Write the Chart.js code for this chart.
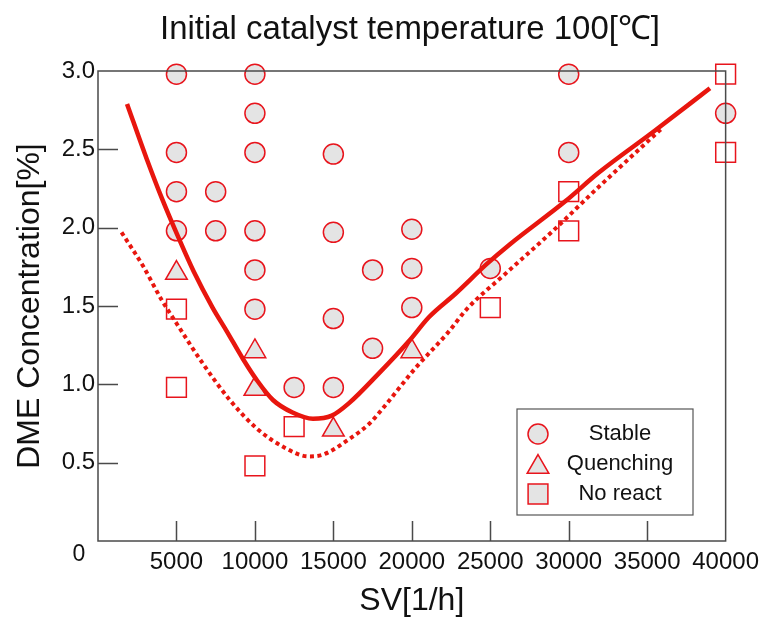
<!DOCTYPE html>
<html>
<head>
<meta charset="utf-8">
<script src="https://cdn.jsdelivr.net/npm/chart.js@4.4.1/dist/chart.umd.min.js"></script>
<style>
  html, body { margin: 0; padding: 0; background: #fff; }
</style>
</head>
<body>
<canvas id="chart" width="766" height="617"></canvas>
<script>
// operating points, SV [1/h] vs DME concentration [%]
const stableSV   = [5000, 5000, 5000, 5000, 7500, 7500, 10000, 10000, 10000, 10000, 10000, 10000, 12500,
                    15000, 15000, 15000, 15000, 17500, 17500, 20000, 20000, 20000, 25000, 30000, 30000, 40000];
const stableConc = [2.98, 2.48, 2.23, 1.98, 2.23, 1.98, 2.98, 2.73, 2.48, 1.98, 1.73, 1.48, 0.98,
                    2.47, 1.97, 1.42, 0.98, 1.73, 1.23, 1.99, 1.74, 1.49, 1.74, 2.98, 2.48, 2.73];

const quenchSV   = [5000, 10000, 10000, 15000, 20000];
const quenchConc = [1.71, 1.21, 0.97, 0.71, 1.21];

const noReactSV   = [5000, 5000, 10000, 12500, 25000, 30000, 30000, 40000, 40000];
const noReactConc = [1.48, 0.98, 0.48, 0.73, 1.49, 2.23, 1.98, 2.98, 2.48];

// boundary curves
const upperSV   = [1850, 3100, 4100, 5200, 6100, 7300, 8200, 9250, 10100, 11150, 12400, 13700, 14900,
                   16000, 17900, 19850, 21100, 22800, 24800, 26200, 29800, 31900, 35500, 39000];
const upperConc = [2.79, 2.44, 2.18, 1.92, 1.72, 1.49, 1.34, 1.16, 1.03, 0.90, 0.82, 0.78, 0.80,
                   0.88, 1.07, 1.28, 1.43, 1.58, 1.77, 1.89, 2.17, 2.35, 2.62, 2.89];

const lowerSV   = [1500, 2900, 4050, 5000, 6700, 8400, 10100, 12000, 13400, 14300,
                   16000, 17300, 18100, 20200, 22300, 23500, 25900, 29000, 31700, 36000];
const lowerConc = [1.97, 1.75, 1.54, 1.39, 1.13, 0.90, 0.72, 0.59, 0.54, 0.55,
                   0.65, 0.75, 0.84, 1.10, 1.33, 1.48, 1.70, 1.98, 2.24, 2.64];

const xTicks = [5000, 10000, 15000, 20000, 25000, 30000, 35000, 40000];
const yTicks = [0.5, 1.0, 1.5, 2.0, 2.5, 3.0];

const legendItems = ['Stable', 'Quenching', 'No react'];

const RED = 'rgb(232, 22, 14)';
const MARK_RED = '#e8141c';
const GRAY = '#e4e4e4';
const FONT = '"Liberation Sans", Arial, sans-serif';

const pts = (xs, ys) => xs.map((x, i) => ({ x: x, y: ys[i] }));

const markers = [
  { style: 'circle', radius: 10, fill: GRAY },
  { style: 'triangle', radius: 12.5, fill: GRAY },
  { style: 'rect', radius: 14, fill: '#fff' }
];

// frame, inward ticks, titles and the boxed legend
const decorations = {
  id: 'decorations',
  afterDraw(chart) {
    const { ctx, chartArea: a, scales: { x, y } } = chart;
    ctx.save();
    ctx.strokeStyle = '#4a4a4a';
    ctx.lineWidth = 1.5;
    ctx.strokeRect(a.left, a.top, a.right - a.left, a.bottom - a.top);

    ctx.beginPath();
    xTicks.slice(0, -1).forEach(v => {
      const px = Math.round(x.getPixelForValue(v)) + 0.5;
      ctx.moveTo(px, a.bottom);
      ctx.lineTo(px, a.bottom - 20);
    });
    yTicks.slice(0, -1).forEach(v => {
      const py = Math.round(y.getPixelForValue(v)) + 0.5;
      ctx.moveTo(a.left, py);
      ctx.lineTo(a.left + 20, py);
    });
    ctx.stroke();

    ctx.fillStyle = '#111';
    ctx.textAlign = 'center';
    ctx.textBaseline = 'middle';
    ctx.font = '23px ' + FONT;
    ctx.fillText('0', 79, 555);

    // title, a little condensed
    ctx.font = '33px ' + FONT;
    const title = 'Initial catalyst temperature 100[℃]';
    const w = ctx.measureText(title).width;
    ctx.save();
    ctx.translate(410, 30);
    ctx.scale(500 / w, 1);
    ctx.fillText(title, 0, 0);
    ctx.restore();

    // legend
    const lx = 517, ly = 409, lw = 176, lh = 106;
    ctx.fillStyle = '#fff';
    ctx.fillRect(lx, ly, lw, lh);
    ctx.strokeStyle = '#555';
    ctx.lineWidth = 1.2;
    ctx.strokeRect(lx, ly, lw, lh);
    legendItems.forEach((label, i) => {
      const cy = 434 + i * 30;
      ctx.fillStyle = GRAY;
      ctx.strokeStyle = MARK_RED;
      ctx.lineWidth = 1.5;
      Chart.helpers.drawPoint(ctx, {
        pointStyle: markers[i].style,
        radius: markers[i].radius,
        rotation: 0,
        borderWidth: 1.5
      }, 538, cy + (i === 1 ? 3 : 0));
      ctx.fillStyle = '#111';
      ctx.font = '22px ' + FONT;
      ctx.fillText(label, 620, cy);
    });
    ctx.restore();
  }
};

const scatterSet = (label, data, m) => ({
  type: 'scatter',
  label: label,
  data: data,
  order: 1,
  clip: false,
  pointStyle: m.style,
  pointRadius: m.radius,
  pointHoverRadius: m.radius,
  backgroundColor: m.fill,
  borderColor: MARK_RED,
  borderWidth: 1.5
});

const ctx = document.getElementById('chart');

new Chart(ctx, {
  data: {
    datasets: [
      {
        type: 'line',
        label: 'upper',
        data: pts(upperSV, upperConc),
        order: 0,
        borderColor: RED,
        borderWidth: 4.5,
        pointRadius: 0,
        cubicInterpolationMode: 'monotone',
        fill: false
      },
      {
        type: 'line',
        label: 'lower',
        data: pts(lowerSV, lowerConc),
        order: 0,
        borderColor: RED,
        borderWidth: 4,
        borderDash: [4, 3.5],
        borderCapStyle: 'butt',
        pointRadius: 0,
        cubicInterpolationMode: 'monotone',
        fill: false
      },
      scatterSet(legendItems[0], pts(stableSV, stableConc), markers[0]),
      scatterSet(legendItems[1], pts(quenchSV, quenchConc), markers[1]),
      scatterSet(legendItems[2], pts(noReactSV, noReactConc), markers[2])
    ]
  },
  options: {
    responsive: false,
    animation: false,
    layout: { padding: { top: 71, right: 39, left: 0, bottom: 0 } },
    plugins: {
      legend: { display: false },
      title: { display: false },
      tooltip: { enabled: false }
    },
    scales: {
      x: {
        type: 'linear',
        min: 0,
        max: 40000,
        afterFit(scale) { scale.height = 76; },
        grid: { display: false, drawTicks: false, tickLength: 0 },
        border: { display: false },
        ticks: {
          stepSize: 5000,
          autoSkip: false,
          maxRotation: 0,
          padding: 7,
          color: '#111',
          font: { size: 24, family: FONT },
          callback: v => (v === 0 ? '' : String(v))
        },
        title: {
          display: true,
          text: 'SV[1/h]',
          color: '#111',
          padding: 0,
          font: { size: 32, family: FONT, lineHeight: 1.0 }
        }
      },
      y: {
        type: 'linear',
        min: 0,
        max: 3,
        afterFit(scale) { scale.width = 98; },
        grid: { display: false, drawTicks: false, tickLength: 0 },
        border: { display: false },
        ticks: {
          stepSize: 0.5,
          padding: 3,
          color: '#111',
          font: { size: 24, family: FONT },
          callback: v => (v === 0 ? '' : v.toFixed(1))
        },
        title: {
          display: true,
          text: 'DME Concentration[%]',
          color: '#111',
          padding: { top: 14, bottom: 0 },
          font: { size: 32, family: FONT, lineHeight: 1.0 }
        }
      }
    }
  },
  plugins: [decorations]
});
</script>
</body>
</html>
